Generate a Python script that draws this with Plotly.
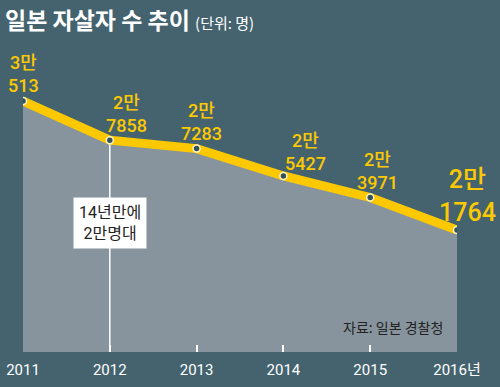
import plotly.graph_objects as go

years = [2011, 2012, 2013, 2014, 2015, 2016]
values = [30513, 27858, 27283, 25427, 23971, 21764]
label_top = ["3만", "2만", "2만", "2만", "2만", "2만"]
label_bottom = ["513", "7858", "7283", "5427", "3971", "1764"]
tick_text = ["2011", "2012", "2013", "2014", "2015", "2016년"]

BG = "#44636f"
AREA = "#87949e"
YEL = "#fcc900"
FONT = "Roboto, Noto Sans CJK KR"
KFONT = "Noto Sans CJK KR"
YMIN, YMAX = 13485, 34652

# styling offsets for labels (pixels)
label_dx = [0, 17, 5, 22, 7, 10]
label_dy = [27, 26, 27, 24, 26, 34]
label_size = [18, 18, 18, 18, 18, 25]

fig = go.Figure()
fig.add_trace(go.Scatter(
    x=years, y=values, mode="lines",
    line=dict(color="rgba(0,0,0,0)", width=0),
    fill="tozeroy", fillcolor=AREA, hoverinfo="skip", showlegend=False))
# vertical marker line at 2012
fig.add_trace(go.Scatter(
    x=[years[1], years[1]], y=[YMIN, values[1]], mode="lines",
    line=dict(color="white", width=1.5), hoverinfo="skip", showlegend=False))
fig.add_trace(go.Scatter(
    x=years, y=values, mode="lines+markers",
    line=dict(color=YEL, width=9),
    marker=dict(size=7, color="#34505b", line=dict(color="#fff4c4", width=1.5)),
    showlegend=False))

anns = []
for i, (x, v) in enumerate(zip(years, values)):
    anns.append(dict(
        x=x, y=v, xref="x", yref="y",
        text=f"{label_top[i]}<br>{label_bottom[i]}",
        showarrow=False, xanchor="center", yanchor="middle",
        xshift=label_dx[i], yshift=label_dy[i],
        font=dict(family=FONT, size=label_size[i], color=YEL, weight=500),
        align="center"))

anns.append(dict(
    x=years[1], y=(352 - 223) / 312, xref="x", yref="paper",
    text="14년만에<br>2만명대", showarrow=False,
    xanchor="center", yanchor="middle",
    bgcolor="white", borderpad=5,
    font=dict(family=FONT, size=16, color="#222"), align="center"))

anns.append(dict(
    x=(445 - 23) / 434, y=(352 - 327) / 312, xref="paper", yref="paper",
    xanchor="right", yanchor="middle",
    text="자료: 일본 경찰청", showarrow=False,
    font=dict(family=KFONT, size=14, color="#222")))

fig.update_layout(
    width=500, height=387,
    paper_bgcolor=BG, plot_bgcolor=BG,
    margin=dict(l=23, r=43, t=40, b=35, autoexpand=False),
    title=dict(
        text="<b>일본 자살자 수 추이</b> <span style='font-size:15px'>(단위: 명)</span>",
        x=0.01, xanchor="left", y=0.945, yanchor="middle",
        font=dict(family=KFONT, size=23, color="white")),
    xaxis=dict(range=[2011, 2016], tickmode="array", tickvals=years, ticktext=tick_text,
               ticks="inside", ticklen=7, tickwidth=1.5, tickcolor="white",
               ticklabelstandoff=7,
               showgrid=False, zeroline=False, showline=False, automargin=False,
               tickfont=dict(family=FONT, size=15, color="white")),
    yaxis=dict(range=[YMIN, YMAX], visible=False, showgrid=False, zeroline=False,
               automargin=False),
    font=dict(family=FONT),
    annotations=anns,
)

fig.write_html("out.html", config={"displayModeBar": False},
               post_script="document.body.style.margin='0';")
